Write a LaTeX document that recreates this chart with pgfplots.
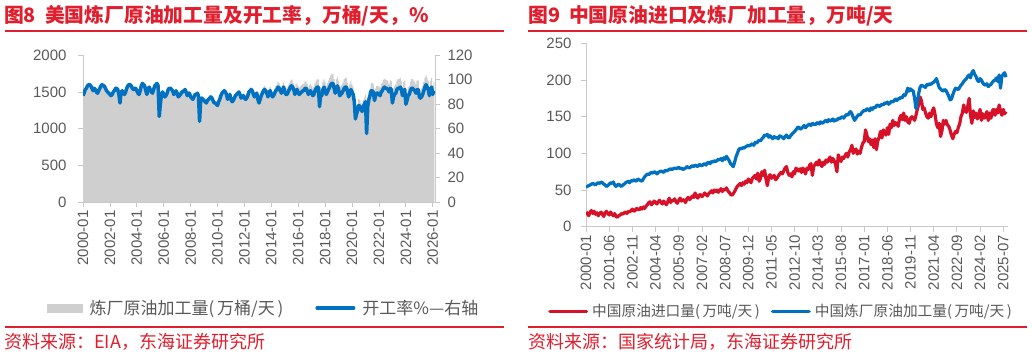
\documentclass[border=0pt]{standalone}
\usepackage{fontspec}
\setmainfont{Liberation Sans}
\newfontfamily\cjk{Noto Sans CJK SC}
\usepackage{pgfplots}
\usepackage{pgfplotstable}
\pgfplotsset{compat=1.18}
\definecolor{tred}{RGB}{224,30,45}
\definecolor{sred}{RGB}{215,18,40}
\definecolor{sblue}{RGB}{0,112,192}
\definecolor{bgray}{RGB}{207,207,207}
\definecolor{tgray}{RGB}{89,89,89}
\definecolor{agray}{RGB}{200,200,200}

% US refinery utilization, %, monthly from 2000-01
\pgfplotstableread[header=false,row sep=\\]{
87\\89\\92\\93\\95\\96\\96\\95\\93\\91\\93\\92\\
90\\89\\91\\93\\95\\96\\95\\95\\93\\91\\90\\89\\
88\\87\\88\\90\\91\\93\\93\\92\\88\\81\\90\\91\\
89\\88\\90\\93\\95\\96\\96\\95\\93\\92\\93\\93\\
91\\89\\88\\91\\95\\97\\96\\95\\91\\88\\92\\94\\
92\\90\\89\\92\\95\\96\\97\\95\\70\\80\\88\\90\\
88\\86\\87\\89\\92\\93\\93\\92\\91\\88\\89\\91\\
89\\86\\87\\88\\90\\90\\91\\92\\90\\87\\89\\89\\
86\\85\\84\\86\\88\\88\\89\\87\\66\\84\\85\\84\\
83\\82\\81\\83\\84\\85\\86\\85\\83\\81\\81\\80\\
79\\82\\84\\87\\89\\90\\91\\90\\88\\84\\86\\88\\
84\\82\\83\\85\\87\\88\\89\\90\\88\\85\\86\\87\\
85\\84\\85\\87\\90\\91\\92\\91\\88\\86\\88\\89\\
84\\81\\84\\87\\89\\91\\92\\91\\89\\86\\90\\91\\
88\\86\\87\\89\\91\\92\\94\\93\\91\\89\\92\\94\\
90\\88\\88\\90\\92\\94\\95\\94\\92\\88\\91\\92\\
89\\88\\89\\90\\91\\91\\93\\93\\91\\88\\90\\91\\
89\\87\\88\\91\\93\\94\\94\\78\\88\\87\\92\\94\\
91\\88\\90\\92\\94\\96\\97\\97\\93\\89\\93\\95\\
92\\87\\88\\89\\91\\93\\94\\94\\90\\86\\89\\92\\
90\\88\\82\\68\\72\\75\\79\\78\\76\\74\\78\\80\\
82\\56\\78\\84\\87\\91\\91\\90\\83\\87\\89\\89\\
88\\87\\90\\91\\93\\94\\93\\93\\92\\90\\93\\92\\
81\\86\\88\\89\\92\\93\\93\\94\\92\\87\\91\\92\\
80\\83\\87\\88\\91\\93\\93\\92\\91\\89\\92\\92\\
86\\85\\86\\88\\91\\94\\96\\94\\92\\87\\92\\94\\
88\\91\\
}\utilTable

% US refinery crude input, 10k bbl/day, monthly from 2000-01
\pgfplotstableread[header=false,row sep=\\]{
1462\\1495\\1546\\1562\\1596\\1613\\1613\\1596\\1562\\1529\\1562\\1546\\
1512\\1495\\1529\\1562\\1596\\1613\\1596\\1596\\1562\\1529\\1512\\1495\\
1478\\1462\\1478\\1512\\1529\\1562\\1562\\1546\\1478\\1361\\1512\\1529\\
1495\\1478\\1512\\1562\\1596\\1613\\1613\\1596\\1562\\1546\\1562\\1562\\
1529\\1495\\1478\\1529\\1596\\1630\\1613\\1596\\1529\\1478\\1546\\1579\\
1546\\1512\\1495\\1546\\1596\\1613\\1630\\1596\\1176\\1344\\1478\\1512\\
1478\\1445\\1462\\1495\\1546\\1562\\1562\\1546\\1529\\1478\\1495\\1529\\
1495\\1445\\1462\\1478\\1512\\1512\\1529\\1546\\1512\\1462\\1495\\1495\\
1445\\1428\\1411\\1445\\1478\\1478\\1495\\1462\\1109\\1411\\1428\\1411\\
1394\\1378\\1361\\1394\\1411\\1428\\1445\\1428\\1394\\1361\\1361\\1344\\
1343\\1394\\1428\\1479\\1513\\1530\\1547\\1530\\1496\\1428\\1462\\1496\\
1428\\1394\\1411\\1445\\1479\\1496\\1513\\1530\\1496\\1445\\1462\\1479\\
1445\\1428\\1445\\1479\\1530\\1547\\1564\\1547\\1496\\1462\\1496\\1513\\
1445\\1393\\1445\\1496\\1531\\1565\\1582\\1565\\1531\\1479\\1548\\1565\\
1531\\1496\\1514\\1549\\1583\\1601\\1636\\1618\\1583\\1549\\1601\\1636\\
1584\\1549\\1549\\1584\\1619\\1654\\1672\\1654\\1619\\1549\\1602\\1619\\
1575\\1558\\1575\\1593\\1611\\1611\\1646\\1646\\1611\\1558\\1593\\1611\\
1584\\1549\\1566\\1620\\1655\\1673\\1673\\1388\\1566\\1549\\1638\\1673\\
1638\\1584\\1620\\1656\\1692\\1728\\1746\\1746\\1674\\1602\\1674\\1710\\
1656\\1566\\1584\\1602\\1638\\1674\\1692\\1692\\1620\\1548\\1602\\1656\\
1602\\1566\\1460\\1210\\1282\\1335\\1406\\1388\\1353\\1317\\1388\\1424\\
1460\\997\\1388\\1495\\1549\\1620\\1620\\1602\\1477\\1549\\1584\\1584\\
1575\\1557\\1611\\1629\\1665\\1683\\1665\\1665\\1647\\1611\\1665\\1647\\
1458\\1548\\1584\\1602\\1656\\1674\\1674\\1692\\1656\\1566\\1638\\1656\\
1440\\1494\\1566\\1584\\1638\\1674\\1674\\1656\\1638\\1602\\1656\\1656\\
1548\\1530\\1548\\1584\\1638\\1692\\1728\\1692\\1656\\1566\\1656\\1692\\
1584\\1638\\
}\inputTable

% China crude imports, 10k t/day, monthly from 2000-01
\pgfplotstableread[header=false,row sep=\\]{
16\\19\\15\\20\\22\\18\\21\\17\\19\\15\\18\\20\\
17\\14\\19\\21\\18\\16\\20\\17\\15\\18\\14\\13\\
15\\16\\18\\17\\19\\20\\18\\21\\20\\22\\24\\21\\
22\\25\\24\\23\\26\\24\\27\\25\\28\\30\\33\\34\\
30\\32\\35\\33\\31\\34\\36\\33\\31\\35\\32\\30\\
34\\39\\33\\36\\35\\38\\34\\32\\36\\39\\35\\37\\
36\\33\\38\\40\\37\\39\\42\\40\\46\\41\\39\\43\\
44\\41\\43\\46\\44\\42\\45\\47\\49\\46\\50\\48\\
50\\47\\49\\52\\48\\51\\50\\53\\49\\47\\44\\43\\
45\\48\\52\\55\\57\\59\\56\\60\\58\\62\\60\\65\\
63\\60\\66\\68\\70\\65\\73\\62\\66\\75\\70\\77\\
65\\56\\68\\71\\66\\68\\70\\64\\66\\69\\72\\74\\
72\\76\\80\\82\\74\\70\\72\\68\\75\\72\\80\\78\\
76\\79\\74\\80\\77\\72\\80\\78\\84\\86\\70\\82\\
85\\88\\84\\91\\86\\82\\88\\85\\91\\88\\92\\95\\
88\\93\\90\\85\\75\\98\\92\\89\\95\\93\\97\\100\\
95\\102\\105\\111\\100\\104\\106\\99\\103\\100\\108\\114\\
116\\132\\125\\116\\120\\112\\118\\108\\120\\105\\117\\122\\
130\\121\\132\\128\\125\\135\\126\\140\\135\\145\\138\\142\\
140\\137\\148\\152\\146\\155\\145\\150\\143\\141\\148\\150\\
148\\145\\152\\160\\167\\177\\172\\160\\162\\155\\150\\148\\
155\\150\\158\\162\\153\\140\\135\\141\\123\\130\\145\\140\\
145\\139\\137\\132\\125\\120\\126\\130\\128\\135\\140\\150\\
155\\166\\158\\156\\165\\175\\152\\141\\158\\149\\155\\147\\
152\\160\\145\\154\\148\\150\\157\\145\\155\\148\\158\\160\\
152\\160\\155\\166\\158\\152\\160\\154\\157\\
}\importTable

% China refinery crude throughput, 10k t/day, monthly from 2000-01
\pgfplotstableread[header=false,row sep=\\]{
54\\55\\56\\57\\58\\59\\58\\57\\59\\60\\59\\61\\
60\\58\\57\\55\\56\\58\\60\\59\\61\\57\\55\\57\\
58\\56\\55\\57\\58\\60\\61\\62\\60\\63\\62\\64\\
63\\62\\65\\64\\63\\62\\65\\68\\70\\72\\71\\73\\
74\\73\\75\\74\\72\\74\\75\\76\\75\\74\\77\\76\\
77\\78\\79\\78\\79\\80\\79\\80\\81\\79\\80\\78\\
79\\80\\82\\81\\80\\82\\83\\82\\84\\83\\82\\85\\
84\\83\\85\\86\\84\\87\\88\\86\\89\\88\\90\\89\\
90\\92\\91\\93\\90\\94\\92\\96\\93\\90\\86\\84\\
82\\88\\95\\100\\105\\107\\106\\108\\107\\109\\110\\111\\
110\\112\\113\\111\\115\\114\\116\\118\\117\\120\\122\\125\\
124\\126\\122\\124\\122\\120\\123\\121\\122\\120\\124\\123\\
122\\120\\123\\125\\122\\121\\124\\126\\128\\130\\132\\135\\
136\\133\\134\\136\\138\\135\\137\\139\\140\\138\\141\\140\\
139\\141\\142\\140\\143\\141\\142\\144\\145\\143\\146\\144\\
145\\147\\144\\146\\145\\148\\147\\149\\150\\148\\151\\153\\
152\\155\\157\\154\\149\\145\\148\\151\\153\\152\\155\\157\\
159\\158\\161\\160\\158\\162\\160\\163\\162\\165\\166\\164\\
165\\167\\166\\169\\168\\170\\167\\169\\171\\170\\172\\174\\
172\\175\\174\\177\\176\\180\\179\\183\\189\\185\\188\\186\\
185\\175\\161\\170\\182\\190\\193\\192\\191\\190\\194\\193\\
195\\194\\196\\197\\199\\202\\196\\190\\188\\186\\185\\187\\
186\\182\\178\\173\\174\\180\\185\\189\\188\\187\\190\\193\\
195\\198\\200\\202\\205\\207\\203\\210\\213\\208\\205\\200\\
198\\202\\200\\196\\194\\193\\195\\191\\193\\194\\197\\199\\
200\\203\\198\\207\\189\\205\\208\\210\\204\\
}\thruTable

\pgfplotsset{
  base/.style={
    scale only axis, enlargelimits=false,
    tick align=outside, major tick length=5pt,
    every tick/.style={agray, line width=0.8pt},
    axis line style={agray, line width=0.8pt},
    /pgf/number format/assume math mode=true,
    /pgf/number format/1000 sep={},
    tick label style={font=\fontsize{15}{18}\selectfont, text=tgray},
    xticklabel style={rotate=90, anchor=east},
  },
}

\begin{document}
\begin{tikzpicture}
\useasboundingbox (0pt,0pt) rectangle (1032pt,-356pt);

% ---------- Titles, rules, sources ----------
\node[anchor=west, inner sep=0pt, text=tred, font=\cjk\bfseries\fontsize{19.8}{22}\selectfont] at (4pt,-15.5pt) {图8\hspace{9pt}美国炼厂原油加工量及开工率，万桶/天，\%};
\node[anchor=west, inner sep=0pt, text=tred, font=\cjk\bfseries\fontsize{19.8}{22}\selectfont] at (528pt,-15.5pt) {图9\hspace{9pt}中国原油进口及炼厂加工量，万吨/天};
\draw[tred, line width=1.5pt] (5pt,-31pt) -- (504pt,-31pt);
\draw[tred, line width=1.5pt] (528pt,-31pt) -- (1027pt,-31pt);
\draw[tred, line width=1.2pt] (5pt,-327pt) -- (504pt,-327pt);
\draw[tred, line width=1.2pt] (528pt,-327pt) -- (1027pt,-327pt);
\node[anchor=west, inner sep=0pt, text=tred, font=\cjk\fontsize{18}{20}\selectfont] at (4pt,-342pt) {资料来源：EIA，东海证券研究所};
\node[anchor=west, inner sep=0pt, text=tred, font=\cjk\fontsize{18}{20}\selectfont] at (528pt,-342pt) {资料来源：国家统计局，东海证券研究所};

% ---------- Left chart: bars ----------
\begin{axis}[base,
  at={(83pt,-202pt)}, anchor=south west,
  width=352pt, height=146.7pt,
  xmin=0, xmax=314, ymin=0, ymax=2000,
  axis y line*=left, axis x line*=bottom,
  ytick={0,500,1000,1500,2000},
  yticklabel style={xshift=-8pt},
  xtick={0,24,...,312},
  xticklabels={2000-01,2002-01,2004-01,2006-01,2008-01,2010-01,2012-01,2014-01,2016-01,2018-01,2020-01,2022-01,2024-01,2026-01},
]
\addplot[ybar, bar width=1.02, bar shift=0pt, fill=bgray, draw=none]
  table[x expr=\coordindex, y index=0]{\inputTable};
\end{axis}

% ---------- Left chart: utilization (right axis) ----------
\begin{axis}[base,
  at={(83pt,-202pt)}, anchor=south west,
  width=352pt, height=146.7pt,
  xmin=0, xmax=314, ymin=0, ymax=120,
  axis y line*=right, axis x line=none,
  ytick={0,20,...,120},
  yticklabel style={xshift=4pt},
  legend columns=2,
  legend style={at={(-0.1023,-0.7226)}, anchor=west, draw=none, fill=none,
    inner sep=0pt, font=\cjk\fontsize{17}{20}\selectfont, text=tgray,
    nodes={inner sep=0pt},
    /tikz/every odd column/.append style={column sep=7pt},
    /tikz/every even column/.append style={column sep=32pt}},
]
\addlegendimage{legend image code/.code={\fill[bgray] (0pt,-4pt) rectangle (35pt,4pt);}}
\addlegendentry{炼厂原油加工量(\,万桶/天\,)}
\addplot[sblue, line width=3.5pt, line join=round,
  legend image code/.code={\draw[sblue, line width=3.5pt, line cap=round] (1.75pt,0pt) -- (38.25pt,0pt);}]
  table[x expr=\coordindex, y index=0]{\utilTable};
\addlegendentry{开工率\%—右轴}
\end{axis}

% ---------- Right chart ----------
\begin{axis}[base,
  at={(586pt,-226.7pt)}, anchor=south west,
  width=422pt, height=183.3pt,
  xmin=0, xmax=309.5, ymin=0, ymax=250,
  axis y line*=left, axis x line*=bottom,
  ytick={0,50,...,250},
  yticklabel style={xshift=-6pt},
  xtick={0,17,...,306},
  xticklabels={2000-01,2001-06,2002-11,2004-04,2005-09,2007-02,2008-07,2009-12,2011-05,2012-10,2014-03,2015-08,2017-01,2018-06,2019-11,2021-04,2022-09,2024-02,2025-07},
  legend columns=2,
  legend style={at={(-0.09,-0.4626)}, anchor=west, draw=none, fill=none,
    inner sep=0pt, font=\cjk\fontsize{14.7}{17}\selectfont, text=tgray,
    nodes={inner sep=0pt},
    /tikz/every odd column/.append style={column sep=4pt},
    /tikz/every even column/.append style={column sep=11pt}},
]
\addplot[sred, line width=3.2pt, line join=round,
  legend image code/.code={\draw[sred, line width=3.5pt, line cap=round] (1.75pt,0pt) -- (38.25pt,0pt);}]
  table[x expr=\coordindex, y index=0]{\importTable};
\addlegendentry{中国原油进口量(\,万吨/天\,)}
\addplot[sblue, line width=3.2pt, line join=round,
  legend image code/.code={\draw[sblue, line width=3.5pt, line cap=round] (1.75pt,0pt) -- (38.25pt,0pt);}]
  table[x expr=\coordindex, y index=0]{\thruTable};
\addlegendentry{中国炼厂原油加工量(\,万吨/天\,)}
\end{axis}
\end{tikzpicture}
\end{document}
